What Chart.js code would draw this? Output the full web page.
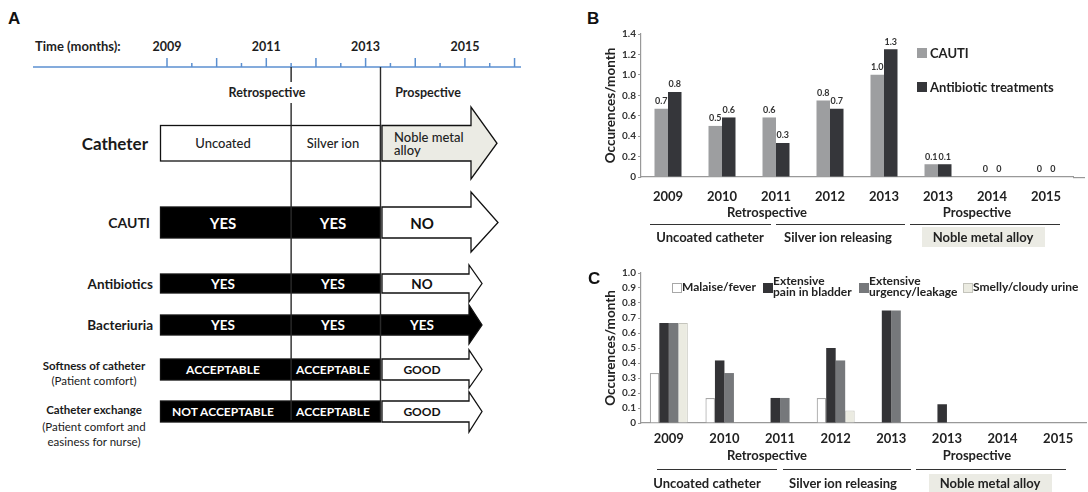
<!DOCTYPE html>
<html><head><meta charset="utf-8">
<script src="https://cdn.jsdelivr.net/npm/chart.js@4/dist/chart.umd.min.js"></script>
<style>
html,body{margin:0;padding:0;background:#fff;}
body{width:1088px;height:492px;position:relative;overflow:hidden;font-family:Lato,'Open Sans',sans-serif;color:#222;}
.panel{position:absolute;font-family:'Liberation Sans',Arial,sans-serif;font-weight:bold;font-size:17px;line-height:17px;color:#111;}
.t{position:absolute;white-space:nowrap;font-weight:bold;font-size:13px;line-height:16px;transform:translate(-50%,-50%);color:#222;}
.hl{position:absolute;height:0;border-top:1.5px solid #333;}
.box{position:absolute;background:#ebebe4;}
.lg{position:absolute;font-weight:bold;font-size:12px;line-height:11px;color:#222;white-space:nowrap;}
.sq{position:absolute;box-sizing:border-box;}
</style></head><body>
<svg id="diagram" width="600" height="492" style="position:absolute;left:0;top:0"></svg>
<canvas id="chartB" width="488" height="250" style="position:absolute;left:600px;top:0"></canvas>
<canvas id="chartC" width="488" height="232" style="position:absolute;left:600px;top:260px"></canvas>
<div id="overlay"></div>
<script>
// ---------------- data ----------------
const timelineYearLabels = [2009, 2011, 2013, 2015];
const timelineFirstYear = 2009;
const timelineLastYear = 2016;
const phaseLabels = ['Retrospective', 'Prospective'];
const phaseBreaks = [2011.5, 2013.3];
const rowLabels = ['Catheter', 'CAUTI', 'Antibiotics', 'Bacteriuria', 'Softness of catheter', 'Catheter exchange'];
const rowNotes = [[], [], [], [], ['(Patient comfort)'], ['(Patient comfort and', 'easiness for nurse)']];
const rowValues = [
  ['Uncoated', 'Silver ion', 'Noble metal|alloy'],
  ['YES', 'YES', 'NO'],
  ['YES', 'YES', 'NO'],
  ['YES', 'YES', 'YES'],
  ['ACCEPTABLE', 'ACCEPTABLE', 'GOOD'],
  ['NOT ACCEPTABLE', 'ACCEPTABLE', 'GOOD']
];
const rowStates = [
  ['plain', 'plain', 'noble'],
  ['yes', 'yes', 'no'],
  ['yes', 'yes', 'no'],
  ['yes', 'yes', 'yes'],
  ['yes', 'yes', 'no'],
  ['yes', 'yes', 'no']
];

const years = ['2009', '2010', '2011', '2012', '2013', '2013', '2014', '2015'];
const seriesB = ['CAUTI', 'Antibiotic treatments'];
const cautiValues = [0.667, 0.5, 0.583, 0.75, 1.0, 0.125, 0, 0];
const antibioticValues = [0.833, 0.583, 0.333, 0.667, 1.25, 0.125, 0, 0];
const cautiLabels = ['0.7', '0.5', '0.6', '0.8', '1.0', '0.1', '0', '0'];
const antibioticLabels = ['0.8', '0.6', '0.3', '0.7', '1.3', '0.1', '0', '0'];
const yTicksB = { min: 0, max: 1.4, step: 0.2 };

const seriesC = ['Malaise/fever', 'Extensive|pain in bladder', 'Extensive|urgency/leakage', 'Smelly/cloudy urine'];
const malaiseValues = [0.333, 0.167, 0, 0.167, 0, 0, 0, 0];
const painValues = [0.667, 0.417, 0.167, 0.5, 0.75, 0.125, 0, 0];
const urgencyValues = [0.667, 0.333, 0.167, 0.417, 0.75, 0, 0, 0];
const smellyValues = [0.667, 0, 0, 0.083, 0, 0, 0, 0];
const yTicksC = { min: 0, max: 1, step: 0.1 };

const studyPhases = ['Retrospective', 'Prospective'];
const catheterGroups = ['Uncoated catheter', 'Silver ion releasing', 'Noble metal alloy'];
const yTitle = 'Occurences/month';

// ---------------- panel A (diagram) ----------------
const svg = document.getElementById('diagram');
const NS = 'http://www.w3.org/2000/svg';
function el(tag, attrs, text) {
  const e = document.createElementNS(NS, tag);
  for (const k in attrs) e.setAttribute(k, attrs[k]);
  if (text != null) e.textContent = text;
  svg.appendChild(e);
  return e;
}
function txt(x, y, s, size, weight, anchor, color) {
  return el('text', { x, y, 'font-family': 'Lato, sans-serif', 'font-size': size, 'font-weight': weight,
    'text-anchor': anchor || 'middle', 'dominant-baseline': 'central', fill: color || '#1e1e1e' }, s);
}
const yearPx = 49.65, x2009 = 167;
const xOf = y => x2009 + (y - timelineFirstYear) * yearPx;

txt(35, 46, 'Time  (months):', 13, 'bold', 'start');
timelineYearLabels.forEach(y => txt(xOf(y), 46, String(y), 12.5, 'bold'));
el('line', { x1: 33, y1: 67, x2: 521, y2: 67, stroke: '#5b8fd0', 'stroke-width': 1.5 });
for (let y = timelineFirstYear; y <= timelineLastYear; y += 0.5) {
  const major = Number.isInteger(y);
  el('line', { x1: xOf(y), y1: major ? 58 : 63, x2: xOf(y), y2: 67, stroke: '#5b8fd0', 'stroke-width': 1.5 });
}
txt(267, 92, phaseLabels[0], 12.5, 'bold');
txt(428, 92, phaseLabels[1], 12.5, 'bold');

const rowGeom = [
  { y0: 125.5, y1: 161, h0: 107, h1: 179, shaft: 471, tip: 497 },
  { y0: 207, y1: 238, h0: 192, h1: 252, shaft: 471, tip: 498 },
  { y0: 274, y1: 293, h0: 265, h1: 302, shaft: 469, tip: 482 },
  { y0: 315, y1: 335, h0: 305, h1: 344, shaft: 469, tip: 482 },
  { y0: 359, y1: 380, h0: 350, h1: 388, shaft: 469, tip: 482 },
  { y0: 401, y1: 422, h0: 392, h1: 432, shaft: 469, tip: 482 }
];
const fills = { plain: '#ffffff', noble: '#ebebe4', yes: '#000000', no: '#ffffff' };
const textCol = { plain: '#222', noble: '#222', yes: '#ffffff', no: '#111' };
const valueFont = [13, 15, 13.5, 13.5, 12, 12];
const labelFont = [17, 14, 13.5, 13.5, 11.5, 11.5];
const labelY = [[143], [222], [283.5], [325], [365, 380], [409, 426, 441]];
const xStart = 160.5, xDiv = xOf(phaseBreaks[1]);
const segCenters = [223, 333, 422];

rowGeom.forEach((g, r) => {
  const st = rowStates[r];
  const mid = (g.y0 + g.y1) / 2;
  const start3 = st[2] === 'yes' ? xDiv : xDiv + 1.5;
  el('polygon', { points: `${start3},${g.y0} ${g.shaft},${g.y0} ${g.shaft},${g.h0} ${g.tip},${mid} ${g.shaft},${g.h1} ${g.shaft},${g.y1} ${start3},${g.y1}`,
    fill: fills[st[2]], stroke: '#111', 'stroke-width': 1.3, 'stroke-linejoin': 'miter' });
  el('rect', { x: xStart, y: g.y0, width: xDiv - xStart, height: g.y1 - g.y0, fill: fills[st[0]], stroke: '#111', 'stroke-width': 1.3 });
  rowValues[r].forEach((v, s) => {
    const wt = r === 0 ? '500' : 'bold';
    if (v.includes('|')) {
      v.split('|').forEach((line, k) => txt(394, mid - 6.5 + k * 13, line, valueFont[r], wt, 'start', textCol[st[s]]));
    } else {
      txt(segCenters[s], mid, v, valueFont[r], wt, 'middle', textCol[st[s]]);
    }
  });
  const notes = rowNotes[r];
  if (notes.length === 0) {
    txt(r === 0 ? 148 : (r === 1 ? 150 : 153), labelY[r][0], rowLabels[r], labelFont[r], 'bold', 'end', '#1a1a1a');
  } else {
    txt(94, labelY[r][0], rowLabels[r], labelFont[r], 'bold', 'middle', '#1a1a1a');
    notes.forEach((n, k) => txt(94, labelY[r][k + 1], n, labelFont[r], 'normal', 'middle', '#1a1a1a'));
  }
});
// phase boundary lines
const xB1 = xOf(phaseBreaks[0]);
el('line', { x1: xB1, y1: 67, x2: xB1, y2: 82, stroke: '#222', 'stroke-width': 1.4 });
el('line', { x1: xB1, y1: 103, x2: xB1, y2: 420, stroke: '#2a2a2a', 'stroke-width': 1.4 });
el('line', { x1: xDiv, y1: 67, x2: xDiv, y2: 420, stroke: '#2a2a2a', 'stroke-width': 1.4 });

// ---------------- overlay (panel letters, legends, group annotations) ----------------
const ov = document.getElementById('overlay');
function add(cls, style, html) {
  const d = document.createElement('div');
  d.className = cls;
  Object.assign(d.style, style);
  if (html != null) d.innerHTML = html;
  ov.appendChild(d);
  return d;
}
add('panel', { left: '8px', top: '10px' }, 'A');
add('panel', { left: '587px', top: '10px' }, 'B');
add('panel', { left: '588px', top: '270px' }, 'C');

function annotations(phasesY, lineY, groupsY, lines, groupCenters, nobleBox) {
  add('t', { left: '767px', top: phasesY + 'px' }, studyPhases[0]);
  add('t', { left: '977px', top: phasesY + 'px' }, studyPhases[1]);
  lines.forEach(([a, b]) => add('hl', { left: a + 'px', top: lineY + 'px', width: (b - a) + 'px' }));
  add('box', { left: nobleBox[0] + 'px', top: nobleBox[2] + 'px', width: (nobleBox[1] - nobleBox[0]) + 'px', height: (nobleBox[3] - nobleBox[2]) + 'px' });
  add('t', { left: groupCenters[0] + 'px', top: groupsY + 'px' }, catheterGroups[0]);
  add('t', { left: groupCenters[1] + 'px', top: groupsY + 'px' }, catheterGroups[1]);
  add('t', { left: groupCenters[2] + 'px', top: groupsY + 'px' }, catheterGroups[2]);
}
annotations(212, 223.5, 237, [[650, 771], [776, 905], [910, 1060]], [710, 838, 983], [922, 1045, 227, 247]);
annotations(455, 468.5, 483, [[657, 777], [783, 911], [916, 1066]], [707, 843, 990], [929, 1052, 474, 492]);

// legend B
const colB = ['#9d9ea0', '#35363a'];
[[53, 917], [87, 917]].forEach(([cy, x], i) => {
  add('sq', { left: x + 'px', top: (cy - 5) + 'px', width: '10px', height: '10px', background: colB[i] });
  add('lg', { left: (x + 13) + 'px', top: (cy - 7) + 'px', fontSize: '13px', lineHeight: '14px' }, seriesB[i]);
});
// legend C
const colC = ['#ffffff', '#333336', '#76787b', '#ebebe1'];
const bordC = ['#a8a8a8', '#333336', '#76787b', '#c4c4bc'];
const legCx = [672, 763, 859, 963];
seriesC.forEach((s, i) => {
  add('sq', { left: legCx[i] + 'px', top: '283px', width: '9.5px', height: '9.5px', background: colC[i], border: '1.2px solid ' + bordC[i] });
  const parts = s.split('|');
  const top = parts.length === 1 ? 281 : 275;
  add('lg', { left: (legCx[i] + 10) + 'px', top: top + 'px' }, parts.join('<br>'));
});

// ---------------- charts ----------------
const font = 'Lato';
function yAxis(ticks, width) {
  return {
    min: ticks.min, max: ticks.max,
    ticks: { stepSize: ticks.step, font: { family: font, size: 10, weight: 'bold' }, color: '#333', padding: 2 },
    grid: { drawOnChartArea: false, drawTicks: true, tickLength: 3, color: '#999' },
    border: { color: '#999', width: 1.2 },
    title: { display: true, text: yTitle, font: { family: font, size: 13.5, weight: 'bold' }, color: '#222', padding: { top: 3, bottom: 0 } },
    afterFit(s) { s.width = width; }
  };
}
function xAxis(height, pad) {
  return {
    grid: { display: false },
    border: { color: '#999', width: 1.2 },
    ticks: { font: { family: font, size: 13, weight: 'bold' }, color: '#222', padding: pad, maxRotation: 0, autoSkip: false },
    afterFit(s) { s.height = height; }
  };
}
const extendAxis = {
  id: 'extendAxis',
  afterDraw(chart, args, opts) {
    const { ctx, chartArea } = chart;
    ctx.save();
    ctx.strokeStyle = '#999'; ctx.lineWidth = 1.2;
    ctx.beginPath();
    ctx.moveTo(chartArea.right, chartArea.bottom + 0.6);
    ctx.lineTo(chartArea.right + opts.extra, chartArea.bottom + 0.6);
    ctx.stroke();
    ctx.restore();
  }
};
const barValueLabels = {
  id: 'barValueLabels',
  afterDatasetsDraw(chart, args, opts) {
    if (!opts.labels) return;
    const ctx = chart.ctx;
    ctx.save();
    ctx.font = 'bold 9px ' + font;
    ctx.fillStyle = '#333';
    ctx.textAlign = 'center';
    ctx.textBaseline = 'bottom';
    chart.data.datasets.forEach((ds, di) => {
      chart.getDatasetMeta(di).data.forEach((bar, i) => {
        ctx.fillText(opts.labels[di][i], bar.x, bar.y - 3);
      });
    });
    ctx.restore();
  }
};

new Chart(document.getElementById('chartB'), {
  type: 'bar',
  data: {
    labels: years,
    datasets: [
      { label: seriesB[0], data: cautiValues, backgroundColor: colB[0], barPercentage: 1, categoryPercentage: 0.5 },
      { label: seriesB[1], data: antibioticValues, backgroundColor: colB[1], barPercentage: 1, categoryPercentage: 0.5 }
    ]
  },
  options: {
    responsive: false, animation: false, devicePixelRatio: 1,
    layout: { padding: { left: 0, right: 15, top: 34, bottom: 0 } },
    plugins: { legend: { display: false }, tooltip: { enabled: false },
      barValueLabels: { labels: [cautiLabels, antibioticLabels] }, extendAxis: { extra: 12 } },
    scales: { x: xAxis(73, 4), y: yAxis(yTicksB, 41) }
  },
  plugins: [barValueLabels, extendAxis]
});

new Chart(document.getElementById('chartC'), {
  type: 'bar',
  data: {
    labels: years,
    datasets: [
      { label: seriesC[0], data: malaiseValues, backgroundColor: colC[0], borderColor: bordC[0], borderWidth: 1.2 },
      { label: seriesC[1], data: painValues, backgroundColor: colC[1] },
      { label: seriesC[2], data: urgencyValues, backgroundColor: colC[2] },
      { label: seriesC[3], data: smellyValues, backgroundColor: colC[3], borderColor: bordC[3], borderWidth: 1 }
    ].map(d => Object.assign(d, { barPercentage: 1, categoryPercentage: 0.683 }))
  },
  options: {
    responsive: false, animation: false, devicePixelRatio: 1,
    layout: { padding: { left: 0, right: 2, top: 13, bottom: 0 } },
    plugins: { legend: { display: false }, tooltip: { enabled: false }, extendAxis: { extra: 0 } },
    scales: { x: xAxis(69, 0), y: yAxis(yTicksC, 41) }
  },
  plugins: [extendAxis]
});
</script>
</body></html>
